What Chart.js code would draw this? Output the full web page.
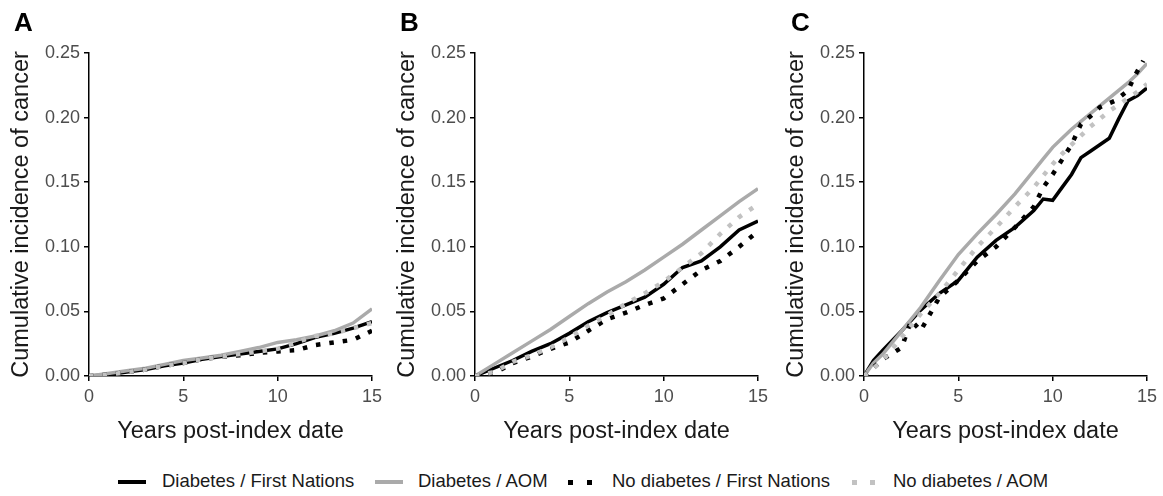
<!DOCTYPE html>
<html>
<head>
<meta charset="utf-8">
<script src="https://cdn.jsdelivr.net/npm/chart.js"></script>
<style>
    body { margin: 0; background: #fff; font-family: "Liberation Sans", Arial, sans-serif; }
    #page { position: relative; width: 1163px; height: 496px; overflow: hidden; }
    .panel { position: absolute; top: 0; width: 388px; height: 448px; }
    .letter { position: absolute; top: 9px; font-weight: bold; font-size: 26px; line-height: 26px; color: #000; }
    .lg { position: absolute; }
    .txt { position: absolute; top: 471px; font-size: 18.5px; line-height: 20px; color: #1a1a1a; white-space: nowrap; }
</style>
</head>
<body>
<div id="page">
    <div class="panel" style="left:0"><canvas id="chartA"></canvas></div>
    <div class="panel" style="left:387px"><canvas id="chartB"></canvas></div>
    <div class="panel" style="left:776px"><canvas id="chartC"></canvas></div>
    <div class="letter" style="left:14px">A</div>
    <div class="letter" style="left:400px">B</div>
    <div class="letter" style="left:791px">C</div>

    <!-- legend -->
    <div class="lg" style="left:118px; top:480px; width:28px; height:4px; background:#000"></div>
    <div class="txt" style="left:162px">Diabetes / First Nations</div>
    <div class="lg" style="left:375px; top:480px; width:28px; height:4px; background:#aaa"></div>
    <div class="txt" style="left:418px">Diabetes / AOM</div>
    <div class="lg" style="left:568px; top:480px; width:5px; height:5px; background:#000"></div>
    <div class="lg" style="left:587px; top:480px; width:5px; height:5px; background:#000"></div>
    <div class="txt" style="left:612px">No diabetes / First Nations</div>
    <div class="lg" style="left:852px; top:480px; width:5px; height:5px; background:#c2c2c2"></div>
    <div class="lg" style="left:870px; top:480px; width:5px; height:5px; background:#c2c2c2"></div>
    <div class="txt" style="left:893px">No diabetes / AOM</div>
</div>
<script>
    // years post-index date
    const years = [0, 1, 2, 3, 4, 5, 6, 7, 8, 9, 10, 11, 12, 13, 14, 15];
    const yearsC = [0, 0.5, 1, 2, 3, 4, 5, 6, 7, 8, 9, 9.5, 10, 10.5, 11, 11.5, 12, 12.5, 13, 13.5, 14, 14.5, 15];
    const yearsCdot = [0, 1, 2, 2.5, 3, 4, 5, 6, 7, 8, 9, 9.5, 10, 11, 11.5, 12, 12.5, 13.3, 14, 14.3, 14.8];

    // A
    const aDiabFN   = [0, 0.001, 0.003, 0.005, 0.008, 0.010, 0.013, 0.015, 0.017, 0.019, 0.021, 0.025, 0.030, 0.033, 0.037, 0.042];
    const aDiabAOM  = [0, 0.002, 0.004, 0.006, 0.009, 0.012, 0.014, 0.016, 0.019, 0.022, 0.026, 0.028, 0.031, 0.035, 0.041, 0.052];
    const aNoDiabFN = [0, 0.001, 0.003, 0.005, 0.008, 0.010, 0.013, 0.015, 0.016, 0.018, 0.019, 0.020, 0.024, 0.026, 0.028, 0.035];
    const aNoDiabAOM= [0, 0.001, 0.003, 0.005, 0.008, 0.010, 0.013, 0.015, 0.017, 0.019, 0.021, 0.026, 0.031, 0.033, 0.037, 0.041];

    // B
    const bDiabFN   = [0, 0.006, 0.012, 0.019, 0.025, 0.033, 0.042, 0.049, 0.055, 0.061, 0.071, 0.084, 0.089, 0.100, 0.113, 0.120];
    const bDiabAOM  = [0, 0.009, 0.018, 0.027, 0.036, 0.046, 0.056, 0.065, 0.073, 0.082, 0.092, 0.102, 0.113, 0.124, 0.135, 0.145];
    const bNoDiabFN = [0, 0.002, 0.010, 0.015, 0.021, 0.026, 0.035, 0.044, 0.049, 0.055, 0.060, 0.071, 0.082, 0.089, 0.100, 0.112];
    const bNoDiabAOM= [0, 0.003, 0.011, 0.016, 0.022, 0.030, 0.039, 0.047, 0.056, 0.064, 0.073, 0.084, 0.095, 0.110, 0.123, 0.133];

    // C
    const cDiabAOM  = [0, 0.010, 0.017, 0.035, 0.053, 0.074, 0.094, 0.110, 0.125, 0.141, 0.159, 0.168, 0.177, 0.184, 0.191, 0.197, 0.203, 0.209, 0.215, 0.221, 0.227, 0.234, 0.242];
    const cDiabFN   = [0, 0.012, 0.020, 0.035, 0.051, 0.064, 0.074, 0.092, 0.105, 0.115, 0.128, 0.137, 0.136, 0.146, 0.156, 0.169, 0.174, 0.179, 0.184, 0.199, 0.213, 0.217, 0.223];
    const cNoDiabFN = [0, 0.013, 0.022, 0.043, 0.035, 0.061, 0.074, 0.089, 0.100, 0.115, 0.131, 0.146, 0.156, 0.179, 0.195, 0.201, 0.208, 0.213, 0.221, 0.231, 0.244];
    const cNoDiabAOM= [0, 0.006, 0.012, 0.030, 0.048, 0.064, 0.082, 0.100, 0.115, 0.131, 0.146, 0.155, 0.164, 0.172, 0.179, 0.186, 0.193, 0.199, 0.205, 0.210, 0.215, 0.220, 0.226];

    const yTicks = [0, 0.05, 0.10, 0.15, 0.20, 0.25];

    function pts(xs, ys) {
        return ys.map((y, i) => ({ x: xs[i], y: y }));
    }

    function series(label, xs, ys, color, dashed) {
        return {
            label,
            data: pts(xs, ys),
            borderColor: color,
            borderWidth: dashed ? 4.5 : 3.5,
            borderDash: dashed ? [4.5, 9] : [],
            pointRadius: 0,
            tension: 0,
            fill: false
        };
    }

    function drawPanel(id, datasets, padLeft, padRight) {
        new Chart(document.getElementById(id), {
            type: 'line',
            data: { datasets },
            options: {
                responsive: true,
                maintainAspectRatio: false,
                animation: false,
                layout: { padding: { left: padLeft, right: padRight, top: 53, bottom: 0 } },
                plugins: { legend: { display: false }, tooltip: { enabled: false } },
                scales: {
                    x: {
                        type: 'linear', min: 0, max: 15,
                        afterFit: axis => { axis.height = 72; },
                        ticks: { stepSize: 5, color: '#4d4d4d', font: { size: 18, family: 'Liberation Sans' }, padding: 5 },
                        grid: { drawOnChartArea: false, drawTicks: true, tickLength: 5, color: '#000', lineWidth: 1.5 },
                        border: { display: true, color: '#000', width: 1.5 },
                        title: { display: true, text: 'Years post-index date', color: '#1a1a1a', font: { size: 23.5, family: 'Liberation Sans' }, padding: { top: 0, bottom: 2 } }
                    },
                    y: {
                        type: 'linear', min: 0, max: 0.25,
                        afterFit: axis => { axis.width = 82; },
                        afterBuildTicks: axis => { axis.ticks = yTicks.map(v => ({ value: v })); },
                        ticks: { color: '#4d4d4d', font: { size: 18, family: 'Liberation Sans' }, padding: 4, callback: v => v.toFixed(2) },
                        grid: { drawOnChartArea: false, drawTicks: true, tickLength: 5, color: '#000', lineWidth: 1.5 },
                        border: { display: true, color: '#000', width: 1.5 },
                        title: { display: true, text: 'Cumulative incidence of cancer', color: '#1a1a1a', font: { size: 23.5, family: 'Liberation Sans' }, padding: 0 }
                    }
                }
            }
        });
    }

    drawPanel('chartA', [
        series('No diabetes / AOM', years, aNoDiabAOM, '#c2c2c2', true),
        series('No diabetes / First Nations', years, aNoDiabFN, '#000', true),
        series('Diabetes / AOM', years, aDiabAOM, '#aaa', false),
        series('Diabetes / First Nations', years, aDiabFN, '#000', false)
    ], 7, 16);
    drawPanel('chartB', [
        series('No diabetes / AOM', years, bNoDiabAOM, '#c2c2c2', true),
        series('No diabetes / First Nations', years, bNoDiabFN, '#000', true),
        series('Diabetes / AOM', years, bDiabAOM, '#aaa', false),
        series('Diabetes / First Nations', years, bDiabFN, '#000', false)
    ], 6, 17);
    drawPanel('chartC', [
        series('No diabetes / AOM', yearsC, cNoDiabAOM, '#c2c2c2', true),
        series('No diabetes / First Nations', yearsCdot, cNoDiabFN, '#000', true),
        series('Diabetes / AOM', yearsC, cDiabAOM, '#aaa', false),
        series('Diabetes / First Nations', yearsC, cDiabFN, '#000', false)
    ], 6, 17);
</script>
</body>
</html>
